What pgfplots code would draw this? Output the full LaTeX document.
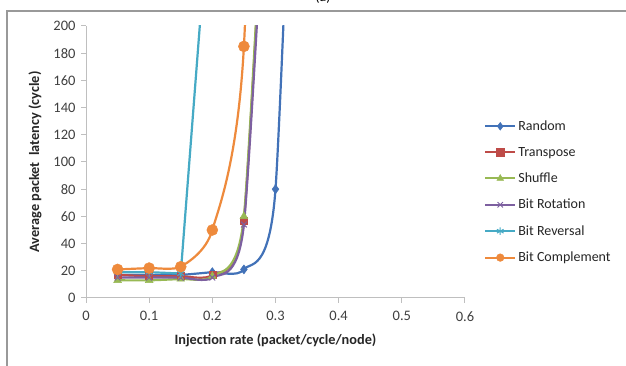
\documentclass[border=0pt]{standalone}
\usepackage{pgfplots}
\pgfplotsset{compat=1.18}
\usepackage{fontspec}
\setmainfont{Carlito}
\definecolor{cRand}{HTML}{4272B8}
\definecolor{cTrans}{HTML}{BE4B48}
\definecolor{cShuf}{HTML}{98B954}
\definecolor{cRot}{HTML}{7D60A0}
\definecolor{cRev}{HTML}{46AAC5}
\definecolor{cComp}{HTML}{EE8A3C}
\definecolor{axgray}{HTML}{BFBFBF}
\definecolor{txt}{HTML}{404040}
\begin{document}
\begin{tikzpicture}[x=1pt,y=1pt]
\useasboundingbox (0,0) rectangle (626,366);
\clip (0,0) rectangle (626,366);
\fill[white] (0,0) rectangle (626,366);
\draw[line width=1.5pt, color=black!40] (7,-20) -- (7,355) -- (650,355);
\node[anchor=base, font=\fontsize{14}{16}\selectfont] at (323,364) {(a)};
\begin{axis}[
  at={(86pt,68pt)}, anchor=south west,
  scale only axis, width=379pt, height=272pt,
  xmin=0, xmax=0.6, ymin=0, ymax=200,
  axis x line*=bottom, axis y line*=left,
  axis line style={axgray, line width=1pt, -},
  xtick={0,0.1,0.2,0.3,0.4,0.5,0.6},
  xticklabels={0,0.1,0.2,0.3,0.4,0.5,0.6},
  ytick={0,20,...,200},
  tick align=outside, major tick length=5pt,
  tick style={axgray, line width=1pt},
  /pgf/number format/assume math mode=true,
  ticklabel style={font=\fontsize{14.5}{16}\selectfont, text=txt},
  xticklabel style={yshift=-5pt},
  yticklabel style={xshift=-2pt},
  xlabel={\textbf{Injection rate (packet/cycle/node)}},
  ylabel={\textbf{Average packet\ \ latency (cycle)}},
  label style={font=\fontsize{14.3}{16}\selectfont, text=black!85},
  xlabel style={yshift=-6pt},
  ylabel style={yshift=5pt},
  clip=true,
  every axis plot/.append style={line width=2.2pt, smooth, tension=0.36},
  legend style={draw=none, fill=none, at={(1.05,0.66)}, anchor=north west,
    font=\fontsize{14}{16}\selectfont, text=black!85, row sep=11.2pt,
    cells={anchor=west}, inner sep=0pt},
  legend image code/.code={\draw[mark repeat=2,mark phase=2, mark size=3.8pt] plot coordinates {(0pt,0pt) (15pt,0pt) (30pt,0pt)};},
]
\addplot[cRand, mark=diamond*, mark size=4.5pt, mark options={solid,line width=0.5pt}] coordinates {
 (0.05,17) (0.1,17) (0.15,17) (0.2,19) (0.25,21) (0.3,80) (0.35,650)};
\addlegendentry{Random}
\addplot[cTrans, mark=square*, mark size=3.5pt, mark options={solid,line width=0.5pt}] coordinates {
 (0.05,17) (0.1,16) (0.15,16) (0.2,17) (0.25,57) (0.3,470)};
\addlegendentry{Transpose}
\addplot[cShuf, mark=triangle*, mark size=4.5pt, mark options={solid,line width=0.5pt}] coordinates {
 (0.05,13) (0.1,13) (0.15,14) (0.2,16) (0.25,60) (0.3,480)};
\addlegendentry{Shuffle}
\addplot[cRot, mark=x, mark size=4pt, mark options={solid,line width=1pt}] coordinates {
 (0.05,15) (0.1,15) (0.15,15) (0.2,15) (0.25,54) (0.3,450)};
\addlegendentry{Bit Rotation}
\addplot[cRev, sharp plot, mark=asterisk, mark size=4pt, mark options={solid,line width=1pt}] coordinates {
 (0.05,19) (0.1,19) (0.15,18) (0.2,320)};
\addlegendentry{Bit Reversal}
\addplot[cComp, mark=*, mark size=5.5pt, mark options={solid,line width=0.5pt}] coordinates {
 (0.05,21) (0.1,22) (0.15,23) (0.2,50) (0.25,185) (0.3,900)};
\addlegendentry{Bit Complement}
\end{axis}
\end{tikzpicture}
\end{document}
